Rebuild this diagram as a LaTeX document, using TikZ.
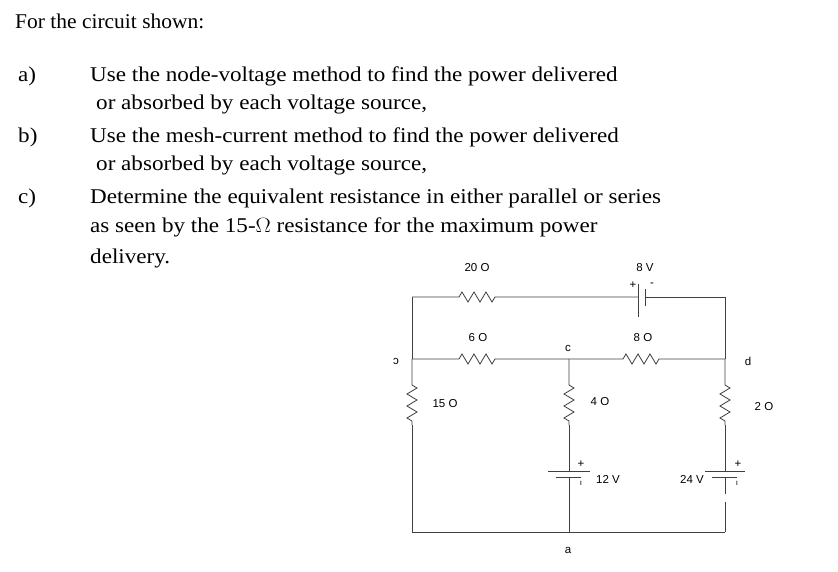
\documentclass[tikz,border=0pt]{standalone}
\usepackage{fontspec}
\setmainfont{Liberation Serif}
\newfontfamily\lab{Liberation Sans}
\usetikzlibrary{calc}
\begin{document}
\begin{tikzpicture}[x=1pt,y=-1pt,
  txt/.style={anchor=base west,inner sep=0,xscale=1.1,font=\fontsize{21}{24}\selectfont},
  clab/.style={inner sep=0,font=\lab\fontsize{11.5}{13}\selectfont},
  wire/.style={line width=0.8pt,color=black!75}]
\useasboundingbox (0,0) rectangle (838,572);
\node[txt,xscale=0.93] (t0) at (15,29) {For the circuit shown:};
\node[txt] (la) at (18,82) {a)};
\node[txt] (l1) at (90,82) {Use the node-voltage method to find the power delivered};
\node[txt] (l2) at (96,110) {or absorbed by each voltage source,};
\node[txt] (lb) at (18,143) {b)};
\node[txt] (l3) at (90,143) {Use the mesh-current method to find the power delivered};
\node[txt] (l4) at (96,171) {or absorbed by each voltage source,};
\node[txt] (lc) at (18,204) {c)};
\node[txt] (l5) at (90,204) {Determine the equivalent resistance in either parallel or series};
\node[txt] (l6) at (90,233) {as seen by the 15-$\Omega$ resistance for the maximum power};
\node[txt] (l7) at (90,263) {delivery.};
% nodes
\coordinate (tl) at (412,297); \coordinate (tr) at (725,297);
\coordinate (b) at (412,359); \coordinate (c) at (569,359); \coordinate (d) at (725,359);
\coordinate (bl) at (412,532); \coordinate (a) at (569,532); \coordinate (br) at (725,532);
% top branch
\draw[wire] (tl) -- (459,297) -- ++(3,-5) -- ++(6,10) -- ++(6,-10) -- ++(6,10) -- ++(6,-10) -- ++(6,10) -- ++(3,-5) -- (638,297);
\draw[wire] (638,284) -- (638,317);
\draw[wire] (645,289) -- (645,306);
\draw[wire] (645,297) -- (tr) -- (d);
% middle branch
\draw[wire] (b) -- (459,359) -- ++(3,-5) -- ++(6,10) -- ++(6,-10) -- ++(6,10) -- ++(6,-10) -- ++(6,10) -- ++(3,-5) -- (c)
  -- (623,359) -- ++(3,-5) -- ++(6,10) -- ++(6,-10) -- ++(6,10) -- ++(6,-10) -- ++(6,10) -- ++(3,-5) -- (d);
\draw[wire] (tl) -- (b);
% verticals
\foreach \x/\n in {412/l,569/m,725/r}{
  \draw[wire] (\x,359) -- (\x,385) -- ++(5,3) -- ++(-10,6) -- ++(10,6) -- ++(-10,6) -- ++(10,6) -- ++(-10,6) -- ++(5,3) -- (\x,425);
}
\draw[wire] (bl) -- (412,425);
\draw[wire] (569,425) -- (569,471); \draw[wire] (548,471) -- (590,471);
\draw[wire] (556,477) -- (581,477); \draw[wire] (569,477) -- (a);
\draw[wire] (725,425) -- (725,471); \draw[wire] (705,471) -- (745,471);
\draw[wire] (712,477) -- (737,477); \draw[wire] (725,477) -- (725,494); \draw[wire] (725,502) -- (br);
\draw[wire] (bl) -- (br);
% labels
\node[clab] (l20) at (477,268) {20 O};
\node[clab] (l8v) at (645,268) {8 V};
\node[clab] (pp) at (633,285) {+};
\node[clab] (mm) at (652,285) {-};
\node[clab] (l6o) at (478,338) {6 O};
\node[clab] (lcc) at (568,348) {c};
\node[clab] (l8o) at (643,338) {8 O};
\node[clab] (ldd) at (748,361) {d};
\node[clab] (lbb) at (396,361) {ɔ};
\node[clab] (l15) at (445,404) {15 O};
\node[clab] (l4) at (600,402) {4 O};
\node[clab] (l2o) at (764,407) {2 O};
\node[clab] (p12) at (581,464) {+};
\node[clab,font=\lab\fontsize{8}{9}\selectfont] (m12) at (581,483) {ı};
\node[clab] (l12) at (608,479) {12 V};
\node[clab] (p24) at (738,464) {+};
\node[clab,font=\lab\fontsize{8}{9}\selectfont] (m24) at (737,483) {ı};
\node[clab] (l24) at (692,479) {24 V};
\node[clab] (laa) at (568,550) {a};
\end{tikzpicture}
\end{document}
